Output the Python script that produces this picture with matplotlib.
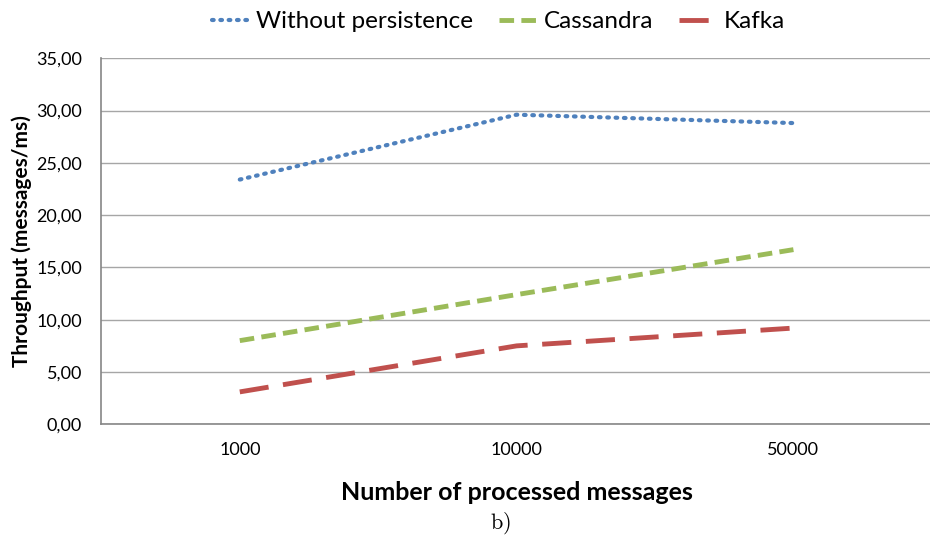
import matplotlib.pyplot as plt
from matplotlib.ticker import FuncFormatter

plt.rcParams['font.family'] = ['Lato', 'DejaVu Sans']
plt.rcParams['mathtext.fontset'] = 'cm'

categories = ['1000', '10000', '50000']
without_persistence = [23.4, 29.6, 28.8]
cassandra = [8.0, 12.4, 16.7]
kafka = [3.1, 7.5, 9.2]
yticks = [0, 5, 10, 15, 20, 25, 30, 35]

fig = plt.figure(figsize=(9.3, 5.44), dpi=100)
ax = fig.add_axes([0.109, 0.22, 0.893, 0.673])

x = range(len(categories))
ax.plot(x, without_persistence, color='#4F81BD', lw=3, linestyle=(0, (0.4, 1.6)),
        dash_capstyle='round', label='Without persistence')
ax.plot(x, cassandra, color='#9BBB59', lw=3.5, linestyle=(0, (3, 1.5)),
        label='Cassandra')
ax.plot(x, kafka, color='#C0504D', lw=3.5, linestyle=(0, (6, 3)),
        label='Kafka')

ax.set_xlim(-0.5, len(categories) - 0.5)
ax.set_ylim(0, 35)
ax.set_yticks(yticks)
ax.yaxis.set_major_formatter(FuncFormatter(lambda v, p: ('%.2f' % v).replace('.', ',')))
ax.set_xticks(list(x))
ax.set_xticklabels(categories)
ax.grid(axis='y', color='#A6A6A6', lw=1)
ax.set_axisbelow(True)
for s in ['top', 'right']:
    ax.spines[s].set_visible(False)
for s in ['left', 'bottom']:
    ax.spines[s].set_color('#868686')
    ax.spines[s].set_linewidth(1.2)
ax.tick_params(axis='both', length=0, labelsize=13)
ax.tick_params(axis='y', pad=14)
ax.tick_params(axis='x', pad=13)

ax.set_ylabel('Throughput (messages/ms)', fontsize=15, fontweight='bold', labelpad=3)
ax.set_xlabel('Number of processed messages', fontsize=18, fontweight='bold', labelpad=16)

ax.legend(loc='lower center', bbox_to_anchor=(0.478, 1.025), ncol=3, frameon=False,
          fontsize=17.5, handlelength=1.65, handletextpad=0.2, columnspacing=1.05,
          borderpad=0.2)

fig.text(0.538, 0.028, r'$\mathrm{b)}$', fontsize=16, ha='center')

fig.savefig('out.png', dpi=100)
